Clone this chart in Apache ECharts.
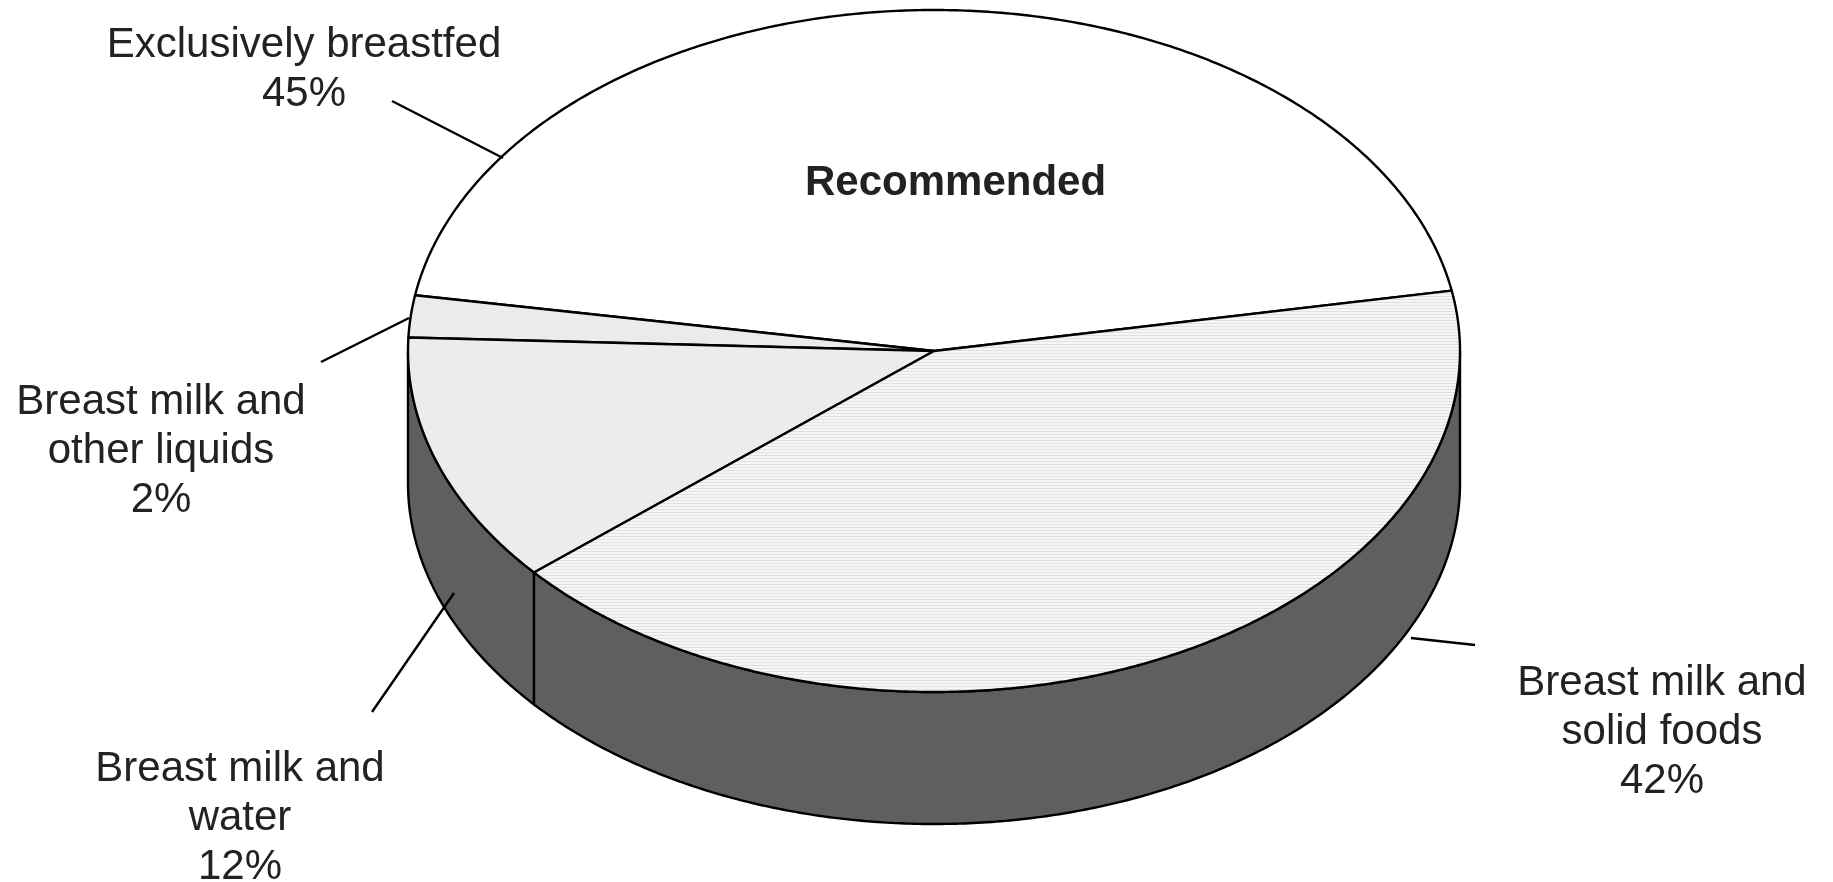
<!DOCTYPE html>
<html>
<head>
<meta charset="utf-8">
<script src="https://cdn.jsdelivr.net/npm/echarts@6/dist/echarts.min.js"></script>
<style>
html,body{margin:0;padding:0;background:#fff;}
#chart{width:1833px;height:882px;}
</style>
</head>
<body>
<div id="chart"></div>
<script>
// ---- data ----
const categories = [
  'Exclusively breastfed',
  'Breast milk and\nother liquids',
  'Breast milk and\nwater',
  'Breast milk and\nsolid foods'
];
const values = [45, 2, 12, 42];
const annotationText = 'Recommended';

// ---- layout / style (not data) ----
const PIE = { cx: 934, cy: 351, rx: 526, ry: 341, depth: 132, startDeg: 10.2 };
const labelLayout = [
  { pos: [304, 70], line: [[392, 101], [503, 158]] },
  { pos: [161, 451], line: [[321, 362], [409, 318]] },
  { pos: [240, 818], line: [[372, 712], [454, 593]] },
  { pos: [1662, 732], line: [[1411, 638], [1475, 645]] }
];
const FONT = '"Liberation Sans", Arial, Helvetica, sans-serif';

function stripePattern() {
  const c = document.createElement('canvas');
  c.width = 4; c.height = 3;
  const g = c.getContext('2d');
  g.fillStyle = '#f6f6f6'; g.fillRect(0, 0, 4, 3);
  g.fillStyle = '#e0e0e0'; g.fillRect(0, 2, 4, 1);
  return c;
}
const topFills = ['#ffffff', '#ebebeb', '#ececec', { image: stripePattern(), repeat: 'repeat' }];
const sideFill = '#5f5f5f';
const LW = 2.4;

const total = values.reduce((a, b) => a + b, 0);
const angles = [];
(function () {
  let a = PIE.startDeg;
  values.forEach(v => { const span = v / total * 360; angles.push([a, a + span]); a += span; });
})();

function pt(t, dy) {
  const r = t * Math.PI / 180;
  return [PIE.cx + PIE.rx * Math.cos(r), PIE.cy - PIE.ry * Math.sin(r) + (dy || 0)];
}
function arc(a0, a1, dy) {
  const pts = [];
  const n = Math.max(2, Math.ceil(Math.abs(a1 - a0) / 0.5));
  for (let i = 0; i <= n; i++) pts.push(pt(a0 + (a1 - a0) * i / n, dy));
  return pts;
}

function renderItem(params, api) {
  const i = params.dataIndex;
  const [a0, a1] = angles[i];
  const children = [];
  // side faces (front half: 180..360 deg, also 540..720 for wrapped)
  [[180, 360], [540, 720]].forEach(([lo, hi]) => {
    const s = Math.max(a0, lo), e = Math.min(a1, hi);
    if (e > s) {
      const top = arc(s, e, 0);
      const bot = arc(e, s, PIE.depth);
      children.push({
        type: 'polygon', shape: { points: top.concat(bot) },
        style: { fill: sideFill, stroke: '#000', lineWidth: LW }
      });
    }
  });
  // top face
  const pts = [[PIE.cx, PIE.cy]].concat(arc(a0, a1, 0));
  children.push({
    type: 'polygon', shape: { points: pts },
    style: { fill: topFills[i], stroke: '#000', lineWidth: LW, lineJoin: 'round' },
    z2: 5
  });
  // leader line + label
  const L = labelLayout[i];
  children.push({
    type: 'line',
    shape: { x1: L.line[0][0], y1: L.line[0][1], x2: L.line[1][0], y2: L.line[1][1] },
    style: { stroke: '#000', lineWidth: LW }, z2: 10
  });
  children.push({
    type: 'text', x: L.pos[0], y: L.pos[1], z2: 10,
    style: {
      text: categories[i] + '\n' + values[i] + '%',
      fontFamily: FONT, fontSize: 42, lineHeight: 49,
      fill: '#222', align: 'center', verticalAlign: 'middle'
    }
  });
  return { type: 'group', children: children };
}

const chart = echarts.init(document.getElementById('chart'), null, { renderer: 'canvas' });
chart.setOption({
  backgroundColor: '#ffffff',
  animation: false,
  series: [{
    type: 'custom',
    coordinateSystem: 'none',
    renderItem: renderItem,
    data: values.map((v, i) => ({ name: categories[i], value: v }))
  }],
  graphic: [{
    type: 'text', left: 955 - 150, top: 181 - 19, z: 100,
    style: {
      text: annotationText, fontFamily: FONT, fontSize: 42, fontWeight: 'bold',
      fill: '#222', width: 300, align: 'center'
    }
  }]
});
</script>
</body>
</html>
